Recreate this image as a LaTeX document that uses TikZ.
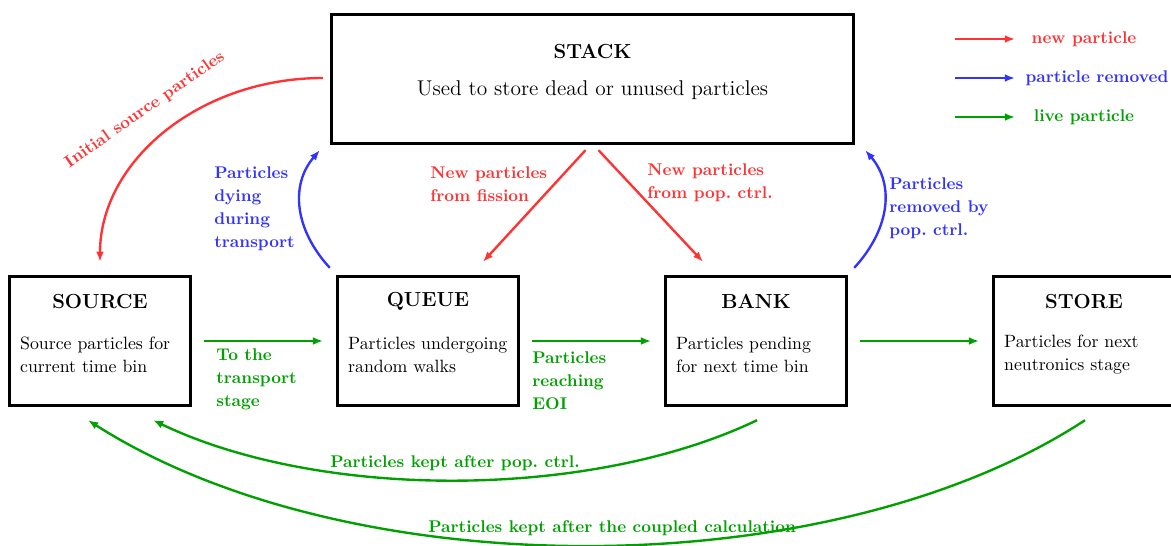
\documentclass[tikz,border=0pt]{standalone}
\usepackage{tikz}
\usetikzlibrary{arrows.meta,positioning,calc}
\definecolor{newc}{RGB}{255,51,51}
\definecolor{remc}{RGB}{51,51,255}
\definecolor{livec}{RGB}{0,160,0}
\tikzset{
  stagebox/.style={draw, line width=2pt, minimum width=106.8pt,
                   minimum height=76.1pt, inner sep=0},
  stagetitle/.style={font=\fontsize{12}{14}\selectfont\bfseries, inner sep=0},
  stagetext/.style={font=\fontsize{10.5}{13.6}\selectfont, align=left, inner sep=0},
  lbl/.style={font=\fontsize{10}{13.6}\selectfont\bfseries, align=left, inner sep=0},
  newp/.style={newc, line width=1.4pt, -{Latex[length=6pt,width=4.6pt]}},
  remp/.style={remc, line width=1.4pt, -{Latex[length=6pt,width=4.6pt]}},
  livep/.style={livec, line width=1.4pt, -{Latex[length=6pt,width=4.6pt]}}
}
\begin{document}
\begin{tikzpicture}[x=0.59pt,y=-0.59pt]
  \useasboundingbox (0,0) rectangle (1171,545);
  \def\stage#1#2#3#4{%
    \node[stagebox] (#1) at (#2,341) {};
    \node[stagetitle] (#1title) at ($(#1.north)+(0,27)$) {#3};
    \node[stagetext, anchor=west] (#1text) at ($(#1.west)+(12,13.5)$) {#4};
  }
  % boxes
  \node[stagebox, minimum width=308pt] (stack) at (592.5,79) {};
  \node[stagetitle] (stacktitle) at ($(stack.north)+(0,39)$) {STACK};
  \node[stagetext, font=\fontsize{12.6}{15}\selectfont] (stacktext)
    at ($(stack.north)+(0,77)$) {Used to store dead or unused particles};
  \stage{source}{100}{SOURCE}{Source particles for\\current time bin}
  \stage{queue}{428}{QUEUE}{Particles undergoing\\random walks}
  \stage{bank}{756}{BANK}{Particles pending\\for next time bin}
  \stage{store}{1084}{STORE}{Particles for next\\neutronics stage}

  % live particles
  \draw[livep, shorten <=7pt, shorten >=7.5pt] (source) -- (queue);
  \draw[livep, shorten <=7pt, shorten >=7.5pt] (queue) -- (bank);
  \draw[livep, shorten <=7pt, shorten >=7.5pt] (bank) -- (store);
  \node[lbl, text=livec, anchor=west] (tostage) at (216,379) {To the\\transport\\stage};
  \node[lbl, text=livec, anchor=west] (reachlbl) at (532,381) {Particles\\reaching\\EOI};
  \draw[livep] ($(bank.south)+(1,13)$) .. controls +(-167,80) and +(167,80) ..
    node[lbl, text=livec, above=5pt] (keptpop) {Particles kept after pop.~ctrl.}
    ($(source.south)+(53,13)$);
  \draw[livep] ($(store.south)+(1,13)$) .. controls +(-255,167) and +(262,167) ..
    node[lbl, text=livec, above=5pt, xshift=13.6pt] (keptcpl) {Particles kept after the coupled calculation}
    ($(source.south)+(-12,13)$);

  % new particles
  \draw[newp] ($(stack.west)+(-7,-1)$) .. controls +(-123,0) and +(0,-101) ..
    ($(source.north)+(0,-13)$);
  \node[lbl, text=newc, rotate=35] (initlbl) at (145,110) {Initial source particles};
  \draw[newp] ($(stack.south)+(-7,5)$) -- ($(queue.north)+(55,-13)$);
  \draw[newp] ($(stack.south)+(6,5)$) -- ($(bank.north)+(-53,-13)$);
  \node[lbl, text=newc, anchor=west] (fisslbl) at (430,184.5) {New particles\\from fission};
  \node[lbl, text=newc, anchor=west] (poplbl) at (647,182.5) {New particles\\from pop.~ctrl.};

  % removed particles
  \draw[remp] ($(queue.north west)+(-6,-7)$) .. controls +(-35,-38) and +(-30,35) ..
    ($(stack.south west)+(-10,5)$);
  \draw[remp] ($(bank.north east)+(6,-7)$) .. controls +(35,-38) and +(30,35) ..
    ($(stack.south east)+(10,5)$);
  \node[lbl, text=remc, anchor=west] (dyinglbl) at (214,208.5) {Particles\\dying\\during\\transport};
  \node[lbl, text=remc, anchor=west] (remlbl) at (889,208) {Particles\\removed by\\pop.~ctrl.};

  % legend
  \foreach \yy/\st/\cl/\cx/\tx in {39/newp/newc/1084/new particle,
      78/remp/remc/1097/particle removed, 117/livep/livec/1084/live particle}{
    \coordinate (lg\yy) at (955,\yy);
    \node[lbl, text=\cl] (lgtext\yy) at (\cx,\yy) {\tx};
    \draw[\st] (lg\yy) -- ++(60,0);
  }
\end{tikzpicture}
\end{document}
